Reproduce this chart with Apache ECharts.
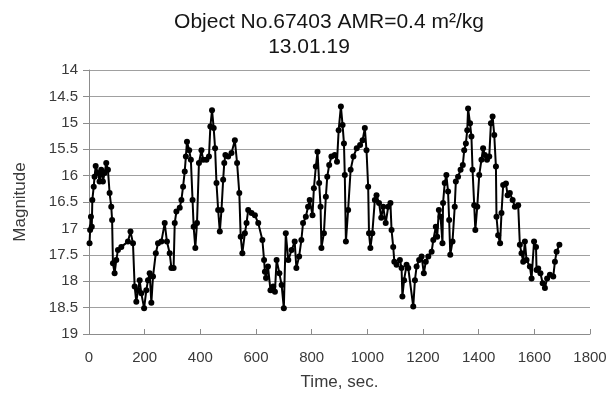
<!DOCTYPE html>
<html>
<head>
<meta charset="utf-8">
<script src="https://cdn.jsdelivr.net/npm/echarts@6/dist/echarts.min.js"></script>
<style>
  html, body { margin: 0; padding: 0; background: #fff; }
  #chart { width: 613px; height: 398px; }
</style>
</head>
<body>
<div id="chart"></div>
<script>
// time, sec.
var times = [2,4,7,10,12,17,20,24,32,38,44,50,56,62,68,74,80,83,86,92,98,104,116,140,149,158,164,170,176,182,188,198,206,212,218,224,230,240,248,260,272,280,290,296,304,308,314,326,332,338,344,348,352,360,366,372,376,382,388,395,404,410,422,431,436,442,448,453,458,464,470,476,482,486,490,500,512,524,532,540,545,551,560,566,572,584,596,608,623,629,632,636,643,652,662,668,674,684,692,700,707,716,728,739,745,755,763,769,779,787,793,803,808,815,821,827,832,835,844,851,856,863,871,883,891,897,905,911,916,919,923,931,940,950,962,974,983,991,997,1003,1006,1011,1018,1027,1033,1042,1050,1057,1066,1075,1083,1087,1093,1097,1105,1117,1123,1126,1132,1141,1147,1165,1171,1177,1186,1195,1203,1210,1219,1231,1237,1246,1251,1257,1263,1270,1272,1278,1284,1290,1294,1298,1306,1314,1318,1326,1335,1343,1348,1354,1359,1362,1369,1374,1378,1384,1388,1395,1402,1410,1416,1422,1430,1438,1444,1450,1456,1462,1464,1470,1477,1482,1488,1498,1504,1512,1522,1530,1542,1548,1554,1560,1566,1572,1584,1590,1599,1606,1608,1614,1622,1630,1638,1646,1656,1668,1674,1680,1690];
// magnitude
var magnitudes = [17.28,17.03,16.78,16.97,16.46,16.21,16.02,15.82,15.95,16.11,15.89,16.11,15.95,15.76,15.89,16.33,16.59,16.84,17.66,17.85,17.6,17.41,17.35,17.25,17.06,17.28,18.1,18.39,18.17,17.98,18.23,18.51,18.17,17.98,17.85,18.41,17.91,17.47,17.28,17.25,16.9,17.25,17.47,17.75,17.75,16.9,16.68,16.61,16.46,16.21,15.92,15.64,15.36,15.52,15.7,16.46,16.97,17.37,16.9,15.76,15.52,15.7,15.7,15.64,15.07,14.76,15.1,15.48,16.14,16.65,17.06,16.65,16.08,15.76,15.61,15.64,15.57,15.33,15.76,16.33,17.16,17.47,17.09,16.9,16.65,16.71,16.75,16.9,17.22,17.6,17.82,17.94,17.72,18.17,18.1,18.2,17.6,17.85,18.07,18.51,17.09,17.6,17.41,17.25,17.75,17.53,17.22,16.9,16.78,16.59,16.46,16.75,16.24,15.83,15.55,16.14,16.59,17.37,17.09,16.4,16.02,15.8,15.64,15.61,15.74,15.14,14.69,15.04,15.39,15.99,17.25,16.65,15.89,15.64,15.48,15.42,15.33,15.1,15.52,16.21,17.09,17.37,17.09,16.46,16.37,16.52,16.8,16.59,16.9,16.59,16.52,17.03,17.35,17.63,17.69,17.6,17.75,18.29,17.98,17.69,17.75,18.48,17.98,17.72,17.6,17.53,17.85,17.63,17.53,17.44,17.22,16.97,17.16,16.65,16.78,17.28,16.52,16.14,15.99,16.3,16.84,17.5,17.25,16.59,16.11,16.02,15.89,15.8,15.52,15.39,15.14,14.73,15.01,15.26,15.89,16.56,17.03,16.59,15.99,15.7,15.48,15.61,15.7,15.64,15.01,14.88,15.23,15.83,16.78,17.13,17.28,16.71,16.18,16.15,16.37,16.33,16.46,16.59,16.56,17.31,17.47,17.63,17.25,17.6,17.72,17.95,17.25,17.35,17.79,17.76,17.85,18.04,18.13,17.95,17.88,17.91,17.63,17.44,17.31];

var chart = echarts.init(document.getElementById('chart'));

var points = times.map(function (t, i) { return [t, magnitudes[i]]; });

var axisColor = '#8c8c8c';
var font = 'Liberation Sans, Arial';
var tickStyle = { color: '#3a3a3a', fontSize: 15, fontFamily: font };
var nameStyle = { color: '#3a3a3a', fontSize: 17, fontFamily: font };
var titleStyle = { color: '#151515', fontSize: 21, fontWeight: 'normal', fontFamily: font };

var option = {
    animation: false,
    backgroundColor: '#fff',
    title: [{
        text: 'Object No.67403 AMR=0.4 m\u00b2/kg',
        left: 324,
        top: 7,
        textAlign: 'center',
        textStyle: titleStyle
    }, {
        text: '13.01.19',
        left: 304,
        top: 32,
        textAlign: 'center',
        textStyle: titleStyle
    }],
    grid: {
        left: 89,
        right: 23,
        top: 70,
        bottom: 64
    },
    xAxis: {
        type: 'value',
        min: 0,
        max: 1800,
        interval: 200,
        position: 'bottom',
        name: 'Time, sec.',
        nameLocation: 'middle',
        nameGap: 40,
        nameTextStyle: nameStyle,
        axisLine: { onZero: false, lineStyle: { color: axisColor, width: 1 } },
        axisTick: { inside: true, length: 5, lineStyle: { color: axisColor } },
        axisLabel: Object.assign({
            margin: 16,
            formatter: function (v) { return String(v); }
        }, tickStyle),
        splitLine: { show: false }
    },
    yAxis: {
        type: 'value',
        inverse: true,
        min: 14,
        max: 19,
        interval: 0.5,
        name: 'Magnitude',
        nameLocation: 'middle',
        nameGap: 60,
        nameTextStyle: nameStyle,
        axisLine: { show: true, lineStyle: { color: axisColor, width: 1 } },
        axisTick: { show: true, length: 6, lineStyle: { color: axisColor } },
        axisLabel: Object.assign({ margin: 11 }, tickStyle),
        splitLine: { lineStyle: { color: '#a0a0a0', width: 1 } }
    },
    series: [{
        type: 'line',
        data: points,
        symbol: 'circle',
        symbolSize: 6,
        itemStyle: { color: '#000' },
        lineStyle: { color: '#000', width: 2 }
    }]
};

chart.setOption(option);
</script>
</body>
</html>
